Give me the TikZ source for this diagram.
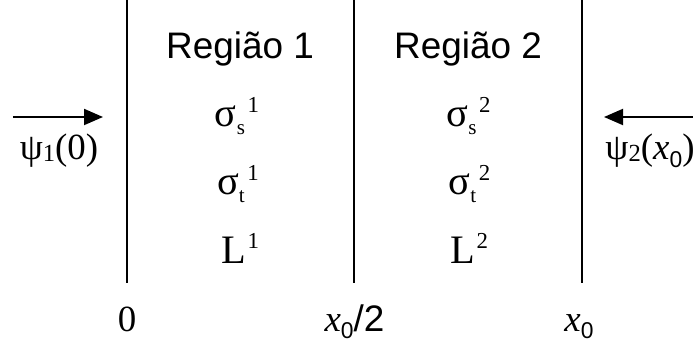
\documentclass[tikz,border=0pt]{standalone}
\usepackage{fontspec}
\setmainfont{Liberation Serif}
\setsansfont{Liberation Sans}
\usetikzlibrary{arrows.meta}

% indices pequenos
\newcommand{\sbx}[1]{\raisebox{-4.5pt}{\fontsize{12}{14}\selectfont #1}}
\newcommand{\spx}[1]{\raisebox{8pt}{\fontsize{13}{15}\selectfont #1}}
\newcommand{\zsub}{\raisebox{-4pt}{\sffamily\fontsize{13}{15}\selectfont 0}}

\begin{document}
\begin{tikzpicture}[
	lbl/.style={font=\fontsize{21}{25}\selectfont, inner sep=0pt, anchor=base},
	par/.style={lbl, font=\fontsize{23}{27}\selectfont},
	reg/.style={font=\sffamily\fontsize{21}{25}\selectfont, inner sep=0pt},
	bordo/.style={line width=1.1pt},
	fluxo/.style={line width=1.1pt, -{Triangle[length=3.8mm,width=3.2mm]}}
	]
	\useasboundingbox (0,0) rectangle (13.86,6.84);
	
	% Fronteiras
	\coordinate (B0t) at (2.54,6.84);   \coordinate (B0b) at (2.54,1.18);
	\coordinate (B1t) at (7.08,6.84);   \coordinate (B1b) at (7.08,1.18);
	\coordinate (B2t) at (11.64,6.84);  \coordinate (B2b) at (11.64,1.18);
	\draw[bordo] (B0t) -- (B0b);
	\draw[bordo] (B1t) -- (B1b);
	\draw[bordo] (B2t) -- (B2b);
	
	% Regiao 1
	\node[reg] (R1) at (4.80,5.86) {Região 1};
	\node[par] (S1) at (4.74,4.30) {σ\sbx{s}\hspace{1.5pt}\spx{1}};
	\node[par] (T1) at (4.76,2.94) {σ\sbx{t}\hspace{1.5pt}\spx{1}};
	\node[par] (L1) at (4.80,1.58) {L\hspace{1pt}\spx{1}};
	
	% Regiao 2
	\node[reg] (R2) at (9.36,5.86) {Região 2};
	\node[par] (S2) at (9.37,4.30) {σ\sbx{s}\hspace{1.5pt}\spx{2}};
	\node[par] (T2) at (9.39,2.94) {σ\sbx{t}\hspace{1.5pt}\spx{2}};
	\node[par] (L2) at (9.38,1.58) {L\hspace{1pt}\spx{2}};
	
	% Fluxos de entrada
	\coordinate (E1a) at (0.26,4.50);  \coordinate (E1b) at (2.06,4.50);
	\coordinate (E2a) at (13.86,4.50); \coordinate (E2b) at (12.08,4.50);
	\draw[fluxo] (E1a) -- (E1b);
	\draw[fluxo] (E2a) -- (E2b);
	\node[lbl] (P1) at (1.18,3.64) {ψ\raisebox{-1pt}{\fontsize{14}{16}\selectfont 1}(0)};
	\node[lbl] (P2) at (13.00,3.64) {ψ\raisebox{-1pt}{\fontsize{14}{16}\selectfont 2}(\textit{x}\zsub)};
	
	% Eixo
	\node[lbl] (X0) at (2.54,0.22) {0};
	\node[lbl] (X1) at (7.09,0.22) {\textit{x}\zsub\textsf{/2}};
	\node[lbl] (X2) at (11.58,0.22) {\textit{x}\zsub};
\end{tikzpicture}
\end{document}
